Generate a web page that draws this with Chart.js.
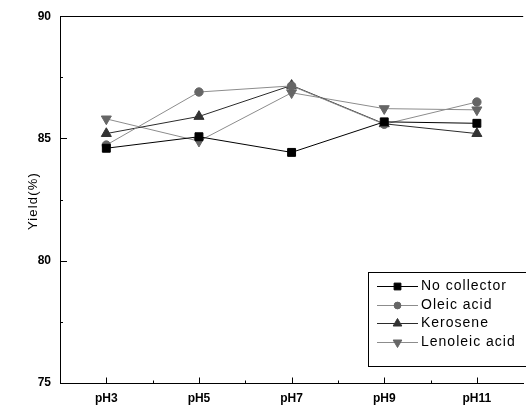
<!DOCTYPE html>
<html>
<head>
<meta charset="utf-8">
<script src="https://cdn.jsdelivr.net/npm/chart.js@4/dist/chart.umd.min.js"></script>
<style>
  html, body { margin: 0; padding: 0; background: #fff; overflow: hidden; }
  canvas { display: block; }
</style>
</head>
<body>
<canvas id="chart" width="530" height="406"></canvas>
<script>
const categories = ['pH3', 'pH5', 'pH7', 'pH9', 'pH11'];
const noCollector = [84.6, 85.07, 84.43, 85.68, 85.62];
const oleicAcid = [84.73, 86.9, 87.15, 85.58, 86.49];
const kerosene = [85.2, 85.9, 87.17, 85.6, 85.2];
const lenoleicAcid = [85.8, 84.89, 86.87, 86.22, 86.17];
const yTicks = [75, 80, 85, 90];

const seriesStyles = [
  { label: 'No collector', data: noCollector, line: '#000000', mark: '#000000', style: 'rect', radius: 5.6, rotation: 0 },
  { label: 'Oleic acid', data: oleicAcid, line: '#8c8c8c', mark: '#666666', style: 'circle', radius: 4.2, rotation: 0 },
  { label: 'Kerosene', data: kerosene, line: '#2b2b2b', mark: '#333333', style: 'triangle', radius: 5.8, rotation: 0 },
  { label: 'Lenoleic acid', data: lenoleicAcid, line: '#8c8c8c', mark: '#666666', style: 'triangle', radius: 5.8, rotation: 180 }
];

// frame top line, inner tick marks, y title and the boxed legend
const framePlugin = {
  id: 'frame',
  afterDraw(chart) {
    const ctx = chart.ctx;
    const area = chart.chartArea;
    const x = chart.scales.x;
    const y = chart.scales.y;
    ctx.save();
    ctx.strokeStyle = '#000';
    ctx.lineWidth = 1;
    ctx.beginPath();
    ctx.moveTo(area.left, Math.round(area.top) + 0.5);
    ctx.lineTo(area.right, Math.round(area.top) + 0.5);

    for (let v = yTicks[0]; v <= yTicks[yTicks.length - 1]; v += 2.5) {
      const py = Math.round(y.getPixelForValue(v)) + 0.5;
      const len = v % 5 === 0 ? 7 : 3;
      ctx.moveTo(area.left, py);
      ctx.lineTo(area.left + len, py);
    }
    const bottom = Math.round(area.bottom) + 0.5;
    categories.forEach((c, i) => {
      const px = Math.round(x.getPixelForValue(i)) + 0.5;
      ctx.moveTo(px, bottom);
      ctx.lineTo(px, bottom - 6);
      if (i < categories.length - 1) {
        const mid = Math.round(x.getPixelForValue(i + 0.5)) + 0.5;
        ctx.moveTo(mid, bottom);
        ctx.lineTo(mid, bottom - 3);
      }
    });
    ctx.stroke();

    // y axis title
    ctx.save();
    ctx.translate(33, 201);
    ctx.rotate(-Math.PI / 2);
    ctx.font = '13px "Liberation Sans", Arial, sans-serif';
    ctx.letterSpacing = '1.2px';
    ctx.fillStyle = '#000';
    ctx.textAlign = 'center';
    ctx.textBaseline = 'middle';
    ctx.fillText('Yield(%)', 0, 0);
    ctx.restore();

    // legend
    const bx = 368.5, by = 272.5;
    ctx.strokeRect(bx, by, 170, 94);
    ctx.font = '14px "Liberation Sans", Arial, sans-serif';
    ctx.letterSpacing = '1px';
    ctx.textBaseline = 'middle';
    ctx.textAlign = 'left';
    chart.data.datasets.forEach((ds, i) => {
      const ry = 286 + i * 18.5;
      ctx.strokeStyle = ds.borderColor;
      ctx.beginPath();
      ctx.moveTo(377, Math.round(ry) + 0.5);
      ctx.lineTo(418, Math.round(ry) + 0.5);
      ctx.stroke();
      ctx.fillStyle = ds.pointBackgroundColor;
      ctx.strokeStyle = ds.pointBorderColor;
      Chart.helpers.drawPoint(ctx, {
        pointStyle: ds.pointStyle,
        radius: ds.pointRadius - 0.8,
        rotation: ds.pointRotation,
        borderWidth: 1
      }, 397.5, Math.round(ry) + 0.5);
      ctx.fillStyle = '#000';
      ctx.fillText(ds.label, 421, ry + 0.5);
    });
    ctx.restore();
  }
};

new Chart(document.getElementById('chart'), {
  type: 'line',
  data: {
    labels: categories,
    datasets: seriesStyles.map(s => ({
      label: s.label,
      data: s.data,
      borderColor: s.line,
      borderWidth: 1,
      tension: 0,
      pointStyle: s.style,
      pointRadius: s.radius,
      pointRotation: s.rotation,
      pointBackgroundColor: s.mark,
      pointBorderColor: s.mark,
      pointBorderWidth: 1
    }))
  },
  options: {
    responsive: false,
    animation: false,
    devicePixelRatio: 1,
    layout: { padding: { top: 14, right: 1, left: 0, bottom: 0 } },
    plugins: {
      legend: { display: false },
      tooltip: { enabled: false }
    },
    scales: {
      x: {
        offset: true,
        grid: { display: false, drawTicks: false },
        border: { display: true, color: '#000', width: 1 },
        ticks: {
          color: '#000',
          padding: 8,
          font: { family: '"Liberation Sans", Arial, sans-serif', size: 12, weight: 'bold' }
        },
        afterFit(scale) { scale.height = 23; }
      },
      y: {
        min: 75,
        max: 90,
        afterBuildTicks(scale) { scale.ticks = yTicks.map(v => ({ value: v })); },
        grid: { display: false, drawTicks: false },
        border: { display: true, color: '#000', width: 1 },
        ticks: {
          color: '#000',
          padding: 9,
          font: { family: '"Liberation Sans", Arial, sans-serif', size: 12, weight: 'bold' }
        },
        afterFit(scale) { scale.width = 60; }
      }
    }
  },
  plugins: [framePlugin]
});
</script>
</body>
</html>
